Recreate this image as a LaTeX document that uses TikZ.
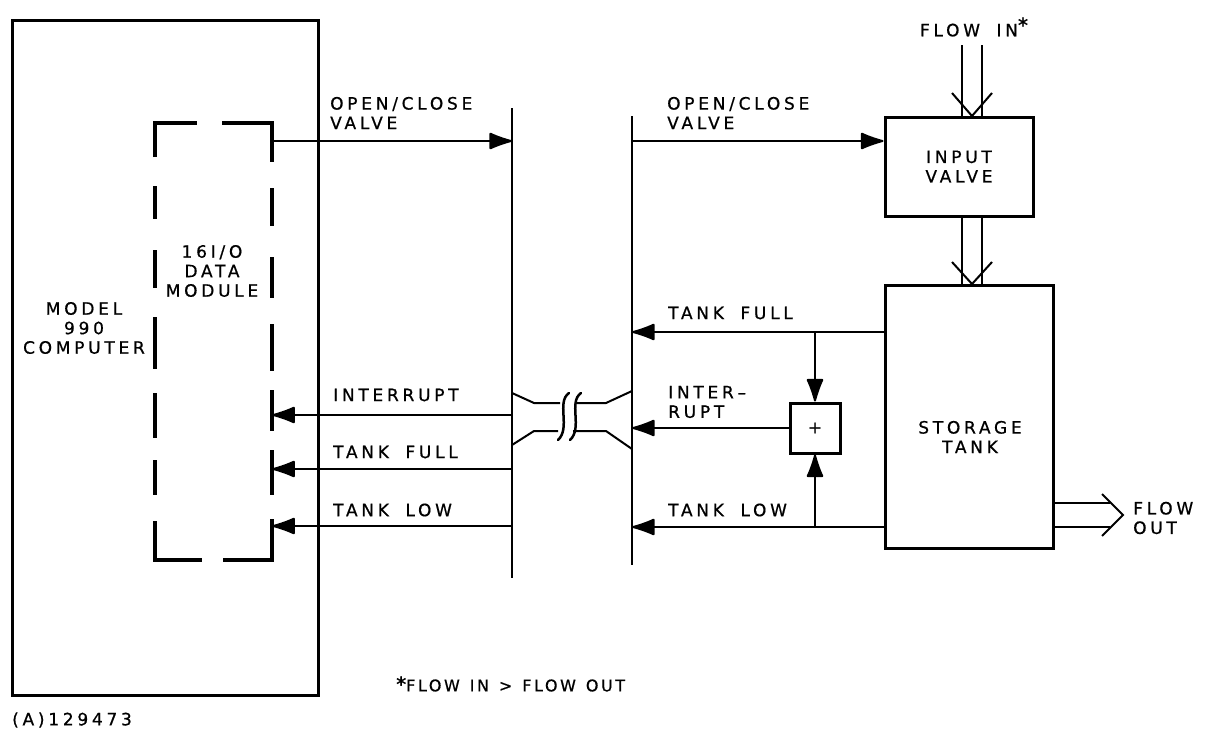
\documentclass[tikz,border=0pt]{standalone}
\usepackage{fontspec}
\setmainfont[LetterSpace=22, FakeBold=0.7, WordSpace=1.8]{DejaVu Sans}
\newfontfamily\astfont[FakeBold=1.5]{DejaVu Sans}
\newfontfamily\notefont[LetterSpace=16, FakeBold=0.7, WordSpace=1.3]{DejaVu Sans}
\usetikzlibrary{arrows.meta}
\begin{document}
\begin{tikzpicture}[x=1pt,y=-1pt,
  txt/.style={font=\fontsize{17}{19.5}\selectfont, inner sep=0pt, align=left},
  heavy/.style={draw, line width=3pt, inner sep=0pt},
  wire/.style={line width=2pt},
  sig/.style={wire, -{Latex[length=26pt,width=18pt,round]}},
  modline/.style={line width=3.5pt},
  flow/.style={line width=2pt}]
\useasboundingbox (0,0) rectangle (1210,748);

% computer
\node[heavy, minimum width=306pt, minimum height=675pt] (comp) at (165,357.5) {};
\node[txt, align=center] (complbl) at (84,328) {MODEL\\990\\COMPUTER};

% data module (dashed)
\node[minimum width=117pt, minimum height=437pt, inner sep=0pt] (mod) at (213.5,341.5) {};
\node[txt, align=center] (modlbl) at (212,271) {16I/O\\DATA\\MODULE};
\draw[modline] (155,157) -- (155,123) -- (197,123);
\draw[modline] (222,123) -- (272,123) -- (272,162);
\foreach \a/\b in {186/219,250/288,317/369,393/438,460/495}
  \draw[modline] (155,\a) -- (155,\b);
\draw[modline] (155,521) -- (155,560) -- (202,560);
\draw[modline] (223,560) -- (272,560) -- (272,519);
\foreach \a/\b in {188/226,257/298,324/371,390/431,450/495}
  \draw[modline] (272,\a) -- (272,\b);

% buses
\coordinate (lbT) at (512,108); \coordinate (lbB) at (512,578);
\coordinate (rbT) at (632,116); \coordinate (rbB) at (632,565);
\draw[wire] (lbT) -- (lbB);
\draw[wire] (rbT) -- (rbB);

% boxes on the right
\node[heavy, minimum width=148pt, minimum height=99pt] (inv) at (959,166.5) {};
\node[txt, align=center] (invlbl) at (inv.center) {INPUT\\VALVE};
\node[heavy, minimum width=168pt, minimum height=263pt] (tank) at (969,416.5) {};
\node[txt, align=center] (tanklbl) at (970,437) {STORAGE\\TANK};
\node[heavy, minimum size=50pt, font=\fontsize{17}{17}\selectfont] (plus) at (815,428) {+};

% left signals
\coordinate (lbOC) at (512,141);
\coordinate (lbINT) at (512,415);
\coordinate (lbFULL) at (512,469);
\coordinate (lbLOW) at (512,526);
\draw[sig] (mod.east |- lbOC) -- (lbOC);
\draw[sig] (lbINT) -- (mod.east |- lbINT);
\draw[sig] (lbFULL) -- (mod.east |- lbFULL);
\draw[sig] (lbLOW) -- (mod.east |- lbLOW);
\node[txt, anchor=west] (l1) at (330,113) {OPEN/CLOSE\\VALVE};
\node[txt, anchor=west] (l2) at (333,395) {INTERRUPT};
\node[txt, anchor=west] (l3) at (333,452) {TANK FULL};
\node[txt, anchor=west] (l4) at (333,510) {TANK LOW};

% right signals
\coordinate (rbOC) at (632,141);
\coordinate (rbFULL) at (632,332);
\coordinate (rbINT) at (632,428);
\coordinate (rbLOW) at (632,527);
\coordinate (jF) at (815,332);
\coordinate (jL) at (815,527);
\draw[sig] (rbOC) -- (inv.west |- rbOC);
\draw[sig] (tank.west |- rbFULL) -- (rbFULL);
\draw[sig] (tank.west |- rbLOW) -- (rbLOW);
\draw[sig] (plus.west) -- (rbINT);
\draw[sig] (jF) -- (plus.north);
\draw[sig] (jL) -- (plus.south);
\node[txt, anchor=west] (r1) at (667,113) {OPEN/CLOSE\\VALVE};
\node[txt, anchor=west] (r2) at (668,313) {TANK FULL};
\node[txt, anchor=west] (r3) at (668,402) {INTER--\\RUPT};
\node[txt, anchor=west] (r4) at (668,510) {TANK LOW};

% cable break between buses
\draw[wire] (512,393) -- (534,403) -- (560,403);
\draw[wire] (575,403) -- (606,403) -- (632,391);
\draw[wire] (512,445) -- (534,431) -- (558,431);
\draw[wire] (573,431) -- (606,431) -- (632,449);
\draw[line width=2.5pt, line cap=round] (569,393) .. controls (556,402) and (571,428) .. (558,440);
\draw[line width=2.5pt, line cap=round] (581,393) .. controls (568,402) and (583,428) .. (570,440);

% flow in
\coordinate (fiA) at (962,45); \coordinate (fiB) at (982,45);
\draw[flow] (fiA) -- (fiA |- inv.north);
\draw[flow] (fiB) -- (fiB |- inv.north);
\draw[flow] (952,93) -- (972,116) -- (992,93);
\node[txt] (flowin) at (974,27) {FLOW IN\raisebox{4pt}{\astfont\fontsize{20}{20}\selectfont *}};

% flow between valve and tank
\draw[flow] (fiA |- inv.south) -- (fiA |- tank.north);
\draw[flow] (fiB |- inv.south) -- (fiB |- tank.north);
\draw[flow] (952,262) -- (972,284) -- (992,262);

% flow out
\coordinate (foA) at (1110,503); \coordinate (foB) at (1110,527);
\draw[flow] (tank.east |- foA) -- (foA);
\draw[flow] (tank.east |- foB) -- (foB);
\draw[flow] (1102,494) -- (1123,515) -- (1102,536);
\node[txt, anchor=west] (flowout) at (1133,518) {FLOW\\OUT};

% notes
\node[txt, anchor=west, font=\notefont\fontsize{16}{19}\selectfont] (note) at (396,684) {{\astfont\fontsize{20}{20}\selectfont *}FLOW IN > FLOW OUT};
\node[txt, anchor=west] (fig) at (12,720) {(A)129473};
\end{tikzpicture}
\end{document}
